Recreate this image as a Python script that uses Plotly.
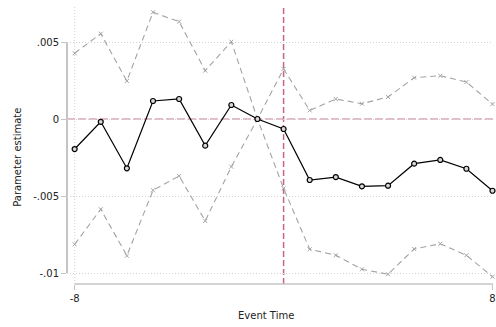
import plotly.graph_objects as go

# Event-study coefficients with 95% confidence bounds
event_time = list(range(-8, 9))
estimate = [-0.00195, -0.00018, -0.0032, 0.00117, 0.0013, -0.00173, 0.00091, 0.0,
            -0.00065, -0.00396, -0.00377, -0.00437, -0.00433, -0.0029, -0.00266,
            -0.00323, -0.00466]
ci_upper = [0.00427, 0.00554, 0.00247, 0.00693, 0.00632, 0.00314, 0.00502, 0.0,
            0.00325, 0.00056, 0.0013, 0.00099, 0.00143, 0.00268, 0.00281,
            0.0024, 0.00097]
ci_lower = [-0.00814, -0.00586, -0.00888, -0.00463, -0.0037, -0.00662, -0.0031, 0.0,
            -0.0045, -0.00846, -0.00885, -0.00976, -0.01008, -0.00844, -0.0081,
            -0.00885, -0.01024]

y_ticks = [-0.01, -0.005, 0, 0.005]
y_tick_text = ["-.01", "-.005", "0", ".005"]
x_ticks = [-8, 8]
x_tick_text = ["-8", "8"]

FONT = "DejaVu Sans"
CI_COLOR = "#a3a3a3"
REF_COLOR = "#c9789a"
AXIS_COLOR = "#c4c4c4"
GRID_COLOR = "#d2d2d2"

fig = go.Figure()

for bound in (ci_upper, ci_lower):
    fig.add_trace(go.Scatter(
        x=event_time, y=bound, mode="lines+markers",
        line=dict(color=CI_COLOR, width=1.1, dash="6px,4px"),
        marker=dict(symbol="x-thin-open", size=4, color=CI_COLOR,
                    line=dict(color=CI_COLOR, width=1)),
        showlegend=False, cliponaxis=False,
    ))

fig.add_trace(go.Scatter(
    x=event_time, y=estimate, mode="lines+markers",
    line=dict(color="black", width=1.2),
    marker=dict(symbol="circle", size=5, color="#d8d8d8",
                line=dict(color="black", width=1.2)),
    showlegend=False, cliponaxis=False,
))

# vertical dotted grid line at the first event period
fig.add_shape(type="line", xref="x", x0=min(x_ticks), x1=min(x_ticks),
              yref="paper", y0=0, y1=1,
              line=dict(color=GRID_COLOR, width=1, dash="1px,2px"), layer="below")

# reference lines: zero effect and treatment onset
fig.add_shape(type="line", xref="paper", x0=0, x1=1, yref="y", y0=0, y1=0,
              line=dict(color=REF_COLOR, width=1.2, dash="8px,3px"), layer="below")
fig.add_shape(type="line", xref="x", x0=0, x1=0, yref="paper", y0=0, y1=1,
              line=dict(color="#c8648a", width=1.5, dash="6px,3px"), layer="below")

# axis lines spanning only the tick range
fig.add_shape(type="line", xref="paper", x0=0, x1=0, yref="y",
              y0=min(y_ticks), y1=max(y_ticks),
              line=dict(color=AXIS_COLOR, width=2), layer="below")
fig.add_shape(type="line", xref="x", x0=min(x_ticks), x1=max(x_ticks) + 0.1,
              yref="paper", y0=0, y1=0,
              line=dict(color=AXIS_COLOR, width=1.5), layer="below")

fig.update_xaxes(
    range=[-8.293, 8.019], tickvals=x_ticks, ticktext=x_tick_text,
    ticks="outside", ticklen=5, ticklabeloverflow="allow",
    tickcolor=AXIS_COLOR, showline=False, zeroline=False, showgrid=False,
    tickfont=dict(family=FONT, size=10, color="#222"),
)
fig.update_yaxes(
    range=[-0.010714, 0.007403], tickvals=y_ticks, ticktext=y_tick_text,
    ticks="outside", ticklen=5, tickcolor=AXIS_COLOR, showline=False,
    zeroline=False, showgrid=True, gridcolor=GRID_COLOR, griddash="1px,2px",
    gridwidth=1, tickfont=dict(family=FONT, size=10, color="#222"),
)

fig.add_annotation(text="Parameter estimate", xref="paper", yref="paper",
                   x=-0.1166, y=0.4534, xanchor="center", yanchor="middle",
                   textangle=-90, showarrow=False,
                   font=dict(family=FONT, size=10, color="#222"))
fig.add_annotation(text="Event Time", xref="paper", yref="paper",
                   x=0.4674, y=-0.1136, xanchor="center", yanchor="middle",
                   showarrow=False, font=dict(family=FONT, size=10, color="#222"))

fig.update_layout(
    width=496, height=327,
    margin=dict(l=67, r=0, t=5, b=43),
    plot_bgcolor="white", paper_bgcolor="white",
)

fig.write_html("out.html")
